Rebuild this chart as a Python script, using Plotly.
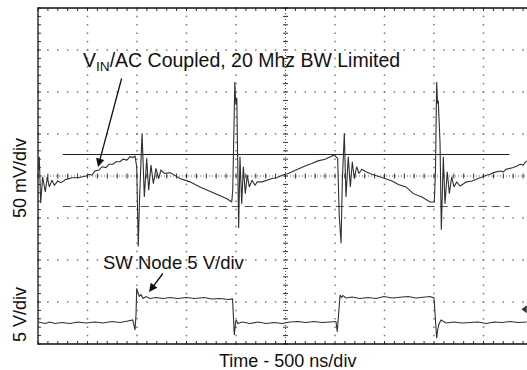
import plotly.graph_objects as go

# ---------------- data (read from the scope shot) ----------------
TIME_PER_DIV_NS = 500
VIN_MV_PER_DIV = 50
SW_V_PER_DIV = 5

vin_time_ns = [5, 13, 27, 47, 74, 94, 114, 141, 165, 199, 232, 283, 343, 404, 485,
               515, 545, 576, 616, 646, 687, 717, 758, 788, 828, 859, 899, 929, 960, 980,
               997, 1013, 1025, 1051, 1074, 1098, 1118, 1141, 1165, 1192, 1219, 1242, 1276,
               1333, 1434, 1535, 1636, 1737, 1838, 1909, 1957,
               1967, 1975, 1988, 1998, 2008, 2027, 2040, 2058, 2074, 2094, 2114, 2134, 2162,
               2192, 2215, 2263,
               2310, 2364, 2411, 2465, 2528, 2566, 2629, 2697, 2765, 2828, 2899, 2949, 2993, 3027,
               3043, 3061, 3074, 3094, 3111, 3134, 3155, 3175, 3195, 3219, 3242, 3270,
               3313, 3371, 3434, 3505, 3576, 3639, 3717, 3791, 3879, 3960, 4003,
               4015, 4027, 4036, 4043, 4061, 4074, 4094, 4111, 4134, 4155, 4179, 4202, 4229,
               4263, 4330,
               4384, 4444, 4498, 4530, 4566, 4600, 4667, 4700, 4727, 4770, 4801, 4840, 4869,
               4900, 4936]
vin_mv = [7, 23, -32, -1, -19, -1, -13, -5, -11, -6, -8, -4, -2, -2, 0,
          2, 1, 6, 7, 11, 10, 14, 14, 17, 17, 20, 19, 23, 22, 24,
          11, -84, -29, 51, -25, 21, -17, 13, -9, 9, -3, 7, 3,
          4, -3, -7, -13, -18, -23, -27, -31,
          -17, 31, 112, 85, 93, -62, 23, -33, 11, -21, 1, -13, -5,
          -11, -7, -7,
          -5, -3, -2, 1, 3, 5, 9, 12, 15, 18, 20, 23, 25, 21,
          -48, -80, -5, 51, -25, 23, -13, 17, -3, 11, 3, 8,
          5, 2, 0, -3, -6, -10, -13, -21, -25, -31, -31,
          7, 112, 86, 90, 39, -64, 23, -33, 5, -21, -1, -13, -7,
          -12, -7,
          -6, -3, -1, 1, 2, 4, 6, 5, 8, 9, 10, 12, 14, 13, 18]

sw_time_ns = [5, 71, 121, 172, 242, 323, 404, 485, 576, 657, 747, 828, 909, 957,
              980, 990, 997, 1010, 1023, 1040, 1061, 1091, 1131, 1192, 1263, 1333, 1414,
              1495, 1586, 1677, 1758, 1838, 1919, 1965,
              1975, 1983, 1992, 2000, 2020, 2061, 2141, 2222, 2303, 2384, 2465, 2545,
              2626, 2707, 2788, 2869, 2949, 3010,
              3023, 3033, 3051, 3066, 3081, 3111, 3172, 3253, 3333, 3414, 3495, 3576,
              3657, 3737, 3818, 3899, 3960, 4000,
              4010, 4027, 4037, 4050, 4071, 4121, 4202, 4283, 4364, 4444, 4525, 4606,
              4687, 4768, 4848, 4936]
sw_v = [0.12, -0.06, 0.12, -0.06, 0.06, -0.06, 0.12, 0.0, 0.12, 0.0, 0.18, 0.06, 0.24, 0.36,
        -0.83, 0.95, 4.13, 3.57, 3.13, 3.39, 2.92, 3.15, 2.92, 3.04, 2.92, 3.04, 2.92,
        3.04, 2.92, 3.04, 2.86, 2.92, 2.80, 2.86,
        0.95, -1.43, -0.36, 0.36, -0.06, 0.12, -0.06, 0.12, -0.06, 0.06, -0.06, 0.12,
        0.18, 0.06, 0.18, 0.06, 0.12, 0.18,
        -1.04, 0.95, 3.33, 3.04, 3.27, 2.98, 3.09, 2.92, 3.04, 2.92, 3.15, 2.98,
        3.04, 3.15, 2.98, 3.04, 3.15, 2.98,
        1.55, -1.82, -0.83, -0.12, 0.36, 0.0, 0.12, 0.0, 0.06, 0.12, -0.06, 0.12,
        0.06, 0.18, 0.06, 0.12]

cursor_levels_mv = [25.6, -36.3]          # solid, dashed
cursor_span_ns = [250, 4763]
sw_marker_time_ns = 4919
sw_marker_v = 1.63

vin_label = "V<sub>IN</sub>/AC Coupled, 20 Mhz BW Limited"
sw_label = "SW Node 5 V/div"
x_title = "Time - 500 ns/div"
y_titles = ["50 mV/div", "5 V/div"]

assert len(vin_time_ns) == len(vin_mv)
assert len(sw_time_ns) == len(sw_v)

# ---------------- layout constants ----------------
N_XDIV, N_YDIV = 10, 8
VIN_OFFSET = 4.0   # divisions
SW_OFFSET = 0.5
PX_PER_XDIV, PX_PER_YDIV = 49.5, 42.0
NS_PER_PX = TIME_PER_DIV_NS / PX_PER_XDIV
DIV_PER_PX = 1.0 / PX_PER_YDIV
FONT = "Liberation Sans, Arial, Helvetica, sans-serif"

W, H = 527, 370
ML, MT, MB = 37, 7, 25
plot_w = W - ML
x_range = [-NS_PER_PX, -NS_PER_PX + plot_w * NS_PER_PX]
y_range = [-DIV_PER_PX, N_YDIV + DIV_PER_PX]

fig = go.Figure()

# ---- graticule dots ----
dx, dy = [], []
for gy in [1, 2, 3, 5, 6, 7]:
    for k in range(N_XDIV * 5 + 1):
        dx.append(k * 0.2 * TIME_PER_DIV_NS); dy.append(gy)
for gx in [1, 2, 3, 4, 6, 7, 8, 9]:
    for k in range(N_YDIV * 5 + 1):
        dx.append(gx * TIME_PER_DIV_NS); dy.append(k * 0.2)
fig.add_trace(go.Scatter(x=dx, y=dy, mode="markers", hoverinfo="skip",
                         marker=dict(symbol="square", size=1.5, color="#777",
                                     line=dict(width=0))))

# ---- center lines (dense dotted) ----
cx = N_XDIV / 2 * TIME_PER_DIV_NS
cy = N_YDIV / 2
fig.add_trace(go.Scatter(x=[0, N_XDIV * TIME_PER_DIV_NS, None, cx, cx],
                         y=[cy, cy, None, 0, N_YDIV], mode="lines", hoverinfo="skip",
                         line=dict(color="#555", width=1, dash="1px,2px")))

# ---- ticks ----
tx, ty = [], []
tl_x = 3 * NS_PER_PX
tl_y = 3 * DIV_PER_PX
hc_x = 2.5 * NS_PER_PX
hc_y = 2.5 * DIV_PER_PX
for k in range(N_XDIV * 5 + 1):
    x = k * 0.2 * TIME_PER_DIV_NS
    tx += [x, x, None, x, x, None, x, x, None]
    ty += [N_YDIV, N_YDIV - tl_y, None, 0, tl_y, None, cy - hc_y, cy + hc_y, None]
for k in range(N_YDIV * 5 + 1):
    y = k * 0.2
    tx += [0, tl_x, None, cx - hc_x, cx + hc_x, None]
    ty += [y, y, None, y, y, None]
fig.add_trace(go.Scatter(x=tx, y=ty, mode="lines", hoverinfo="skip",
                         line=dict(color="#333", width=1)))

# ---- border ----
fig.add_trace(go.Scatter(x=[N_XDIV * TIME_PER_DIV_NS, 0, 0, N_XDIV * TIME_PER_DIV_NS],
                         y=[N_YDIV, N_YDIV, 0, 0], mode="lines", hoverinfo="skip",
                         line=dict(color="#111", width=1.3)))

# ---- cursors ----
for lvl, dash in zip(cursor_levels_mv, ["solid", "8px,5px"]):
    yv = VIN_OFFSET + lvl / VIN_MV_PER_DIV
    fig.add_trace(go.Scatter(x=cursor_span_ns, y=[yv, yv], mode="lines", hoverinfo="skip",
                             line=dict(color="#222" if dash == "solid" else "#555",
                                       width=1.1, dash=dash)))

# ---- waveforms ----
fig.add_trace(go.Scatter(x=vin_time_ns, y=[VIN_OFFSET + v / VIN_MV_PER_DIV for v in vin_mv],
                         mode="lines", line=dict(color="#303030", width=1.1)))
fig.add_trace(go.Scatter(x=sw_time_ns, y=[SW_OFFSET + v / SW_V_PER_DIV for v in sw_v],
                         mode="lines", line=dict(color="#303030", width=1.1)))
fig.add_trace(go.Scatter(x=[sw_marker_time_ns], y=[SW_OFFSET + sw_marker_v / SW_V_PER_DIV],
                         mode="markers", cliponaxis=False,
                         marker=dict(symbol="triangle-left", size=7, color="#333")))

def ydiv(py):
    return (MT + 1 + N_YDIV * PX_PER_YDIV - py) * DIV_PER_PX

def xns(px):
    return (px - ML - 1) * NS_PER_PX

ann = []
ann.append(dict(x=xns(81), y=ydiv(61), xref="x", yref="y", text=vin_label, showarrow=False,
                xanchor="left", yanchor="middle", font=dict(size=19.5, color="#111", family=FONT)))
ann.append(dict(x=xns(98), y=ydiv(167), xref="x", yref="y", text="", showarrow=True,
                ax=24, ay=-90, arrowhead=2, arrowsize=1.3, arrowwidth=1.3, arrowcolor="#111"))
ann.append(dict(x=xns(101), y=ydiv(262), xref="x", yref="y", text=sw_label, showarrow=False,
                xanchor="left", yanchor="middle", font=dict(size=18.5, color="#111", family=FONT)))
ann.append(dict(x=xns(149), y=ydiv(292), xref="x", yref="y", text="", showarrow=True,
                ax=15, ay=-20, arrowhead=2, arrowsize=1.3, arrowwidth=1.3, arrowcolor="#111"))
ann.append(dict(x=(287 - ML) / plot_w, y=-(361 - (H - MB)) / (H - MT - MB), xref="paper", yref="paper",
                text=x_title, showarrow=False, xanchor="center", yanchor="middle",
                font=dict(size=18, color="#111", family=FONT)))
for t, py in zip(y_titles, [178, 315]):
    ann.append(dict(x=(20 - ML) / plot_w, y=((H - MB) - py) / (H - MT - MB), xref="paper", yref="paper",
                    text=t, showarrow=False, textangle=-90, xanchor="center", yanchor="middle",
                    font=dict(size=18, color="#111", family=FONT)))

fig.update_layout(
    width=W, height=H,
    margin=dict(l=ML, r=0, t=MT, b=MB, pad=0),
    paper_bgcolor="white", plot_bgcolor="white",
    showlegend=False,
    xaxis=dict(range=x_range, visible=False, fixedrange=True),
    yaxis=dict(range=y_range, visible=False, fixedrange=True),
    annotations=ann,
)

fig.write_html("out.html", post_script="document.body.style.margin='0';",
               config={"displayModeBar": False})
